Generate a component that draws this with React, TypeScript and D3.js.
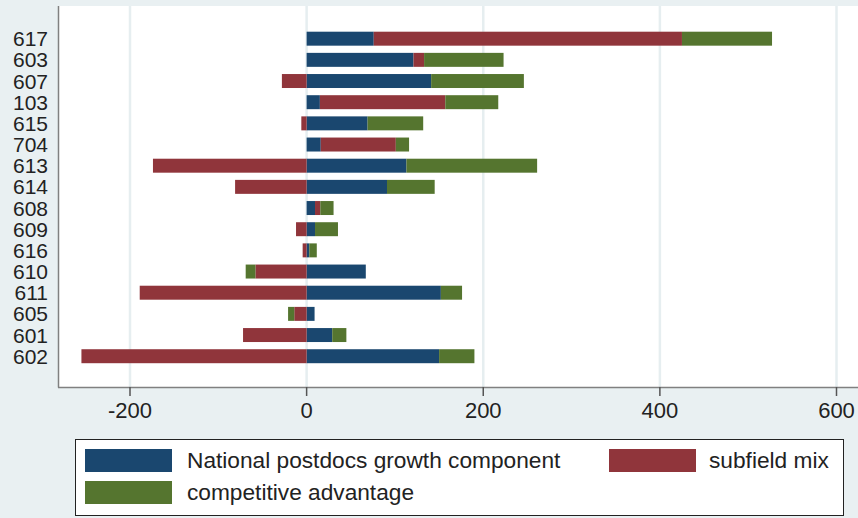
import React from "react";
import * as d3 from "d3";

const categories = ["617","603","607","103","615","704","613","614","608","609","616","610","611","605","601","602"];
const national = [76, 121, 141, 15, 69, 16, 113, 91, 9.5, 9.5, 3, 67, 152, 9, 29, 150];
const subfield = [349, 12, -28, 142, -6, 85, -174, -81, 6, -12, -4.5, -58, -189, -14, -72, -255];
const competitive = [102, 90, 105, 60, 63, 15, 148, 54, 15, 26, 8.5, -11, 24, -7, 16, 40];
const seriesNames = ["National postdocs growth component", "subfield mix", "competitive advantage"];
const seriesKeys = ["national", "subfield", "competitive"];
const seriesColors = ["#1a476f", "#90353b", "#55752f"];
const xTicks = [-200, 0, 200, 400, 600];

const W = 858, H = 518;
const FONT = "'Liberation Sans', Arial, sans-serif";

export default function App() {
  const rows = categories.map((c, i) => ({
    cat: c,
    national: national[i],
    subfield: subfield[i],
    competitive: competitive[i],
  }));
  const stacked = d3.stack<any>().keys(seriesKeys).offset(d3.stackOffsetDiverging)(rows);

  const plotLeft = 58, plotTop = 6, plotBottom = 387;
  const x = d3.scaleLinear().domain([-200, 600]).range([130, 836.5]);
  const y = d3.scaleBand().domain(categories).range([28.1, 366.8]).paddingInner(0.34).paddingOuter(0.17);

  return (
    <div style={{ position: "absolute", left: 0, top: 0 }}>
      <svg width={W} height={H} style={{ display: "block", fontFamily: FONT }}>
        <rect x={0} y={0} width={W} height={H} fill="#E9F0F2" />
        <rect x={plotLeft} y={plotTop} width={W - plotLeft + 10} height={plotBottom - plotTop} fill="#ffffff" />
        {xTicks.map((t) => (
          <line key={"g" + t} x1={x(t)} x2={x(t)} y1={plotTop} y2={plotBottom} stroke="#E6EEF0" strokeWidth={2.5} />
        ))}
        {stacked.map((s, si) => (
          <g key={s.key} fill={seriesColors[si]}>
            {s.map((d, i) => {
              const x0 = x(Math.min(d[0], d[1]));
              const x1 = x(Math.max(d[0], d[1]));
              if (x1 - x0 <= 0) return null;
              return (
                <rect key={i} x={x0} y={y(categories[i])} width={x1 - x0} height={y.bandwidth()} />
              );
            })}
          </g>
        ))}
        <line x1={plotLeft + 0.5} x2={plotLeft + 0.5} y1={plotTop} y2={plotBottom + 0.5} stroke="#808080" strokeWidth={1.5} />
        <line x1={plotLeft} x2={W} y1={plotBottom + 0.5} y2={plotBottom + 0.5} stroke="#808080" strokeWidth={1.5} />
        {xTicks.map((t) => (
          <g key={"t" + t}>
            <line x1={x(t)} x2={x(t)} y1={plotBottom} y2={plotBottom + 9} stroke="#555" strokeWidth={1.5} />
            <text x={x(t)} y={418} textAnchor="middle" fontSize={22} fill="#222">{t}</text>
          </g>
        ))}
        {categories.map((c) => (
          <text key={"y" + c} x={48} y={(y(c) as number) + y.bandwidth() / 2} dy="0.36em" textAnchor="end" fontSize={21} fill="#222">{c}</text>
        ))}
        <rect x={75.5} y={439.5} width={768} height={76} fill="#ffffff" stroke="#222" strokeWidth={1} />
        {[
          { i: 0, sx: 85, sy: 449, tx: 187 },
          { i: 1, sx: 609, sy: 449, tx: 709 },
          { i: 2, sx: 85, sy: 481, tx: 187 },
        ].map((l) => (
          <g key={"l" + l.i}>
            <rect x={l.sx} y={l.sy} width={87} height={23} fill={seriesColors[l.i]} />
            <text x={l.tx} y={l.sy + 19} fontSize={22.7} fill="#222">{seriesNames[l.i]}</text>
          </g>
        ))}
      </svg>
    </div>
  );
}
